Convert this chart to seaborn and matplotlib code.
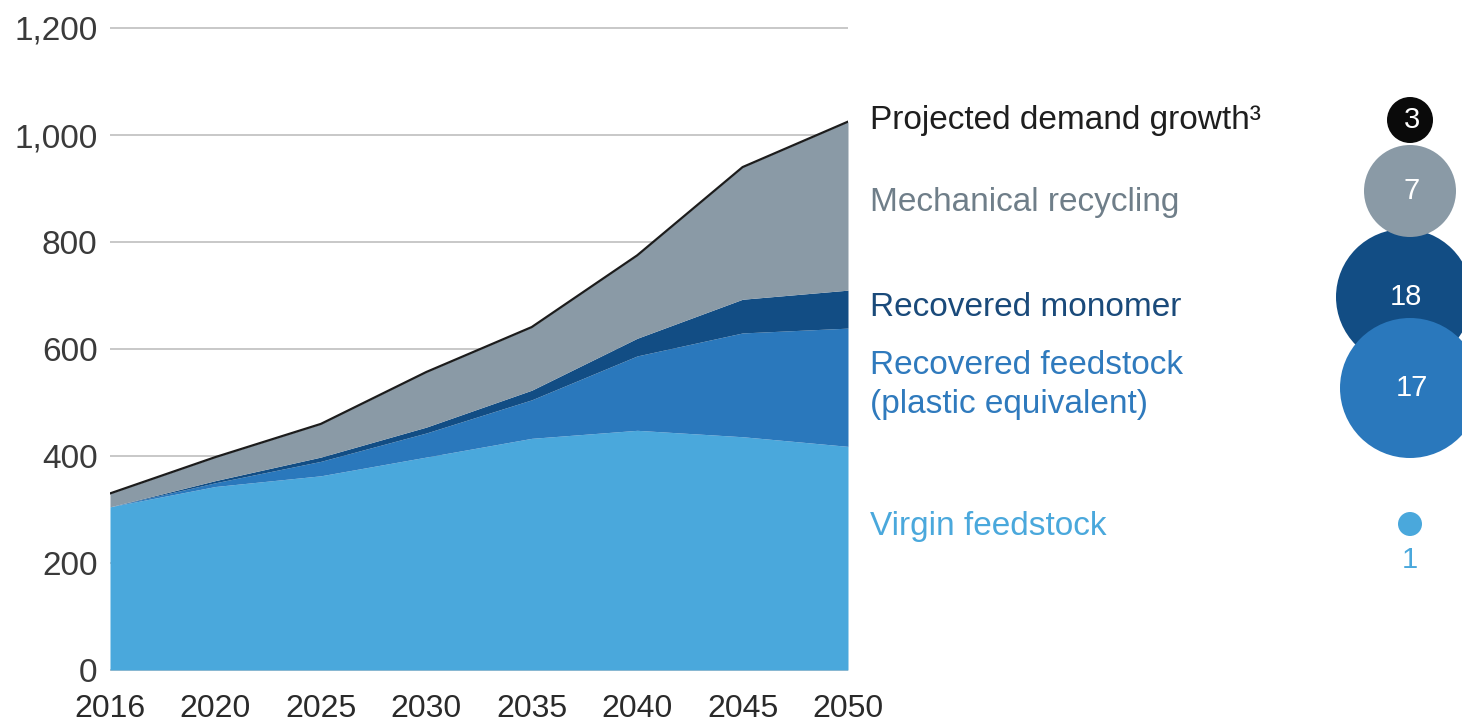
import matplotlib
matplotlib.use("Agg")
import matplotlib.pyplot as plt
from matplotlib.patches import Circle
import seaborn as sns
import numpy as np
import pandas as pd

# ---------------- data ----------------
years = ["2016", "2020", "2025", "2030", "2035", "2040", "2045", "2050"]
virgin_feedstock = [305, 343, 363, 398, 433, 448, 436, 418]
recovered_feedstock = [0, 7, 27, 45, 72, 139, 194, 221]
recovered_monomer = [0, 4, 8, 11, 18, 33, 63, 71]
mechanical_recycling = [25, 44, 62, 103, 118, 155, 247, 315]
y_ticks = [0, 200, 400, 600, 800, 1000, 1200]

legend_labels = ["Projected demand growth³", "Mechanical recycling",
                 "Recovered monomer", "Recovered feedstock\n(plastic equivalent)",
                 "Virgin feedstock"]
bubble_values = [3, 7, 18, 17, 1]

# ---------------- style ----------------
sns.set_theme(style="white")
plt.rcParams["font.family"] = ["Liberation Sans", "DejaVu Sans"]

c_virgin = "#4aa8dc"
c_feed = "#2a78bc"
c_mono = "#124d84"
c_mech = "#8a9aa6"
c_line = "#1c1c1c"

W, H = 1462, 728
fig = plt.figure(figsize=(W / 100, H / 100), dpi=100)
ax = fig.add_axes([110 / W, 1 - 670 / H, (848 - 110) / W, (670 - 28) / H])

df = pd.DataFrame({
    "pos": np.arange(len(years)),
    "virgin": virgin_feedstock,
    "feed": recovered_feedstock,
    "mono": recovered_monomer,
    "mech": mechanical_recycling,
})
df["total"] = df[["virgin", "feed", "mono", "mech"]].sum(axis=1)

# gridlines behind the areas
ax.hlines(y_ticks, 0, len(years) - 1, colors="#c8c8c8", linewidth=1.4,
          zorder=0, clip_on=False)

ax.stackplot(df["pos"], df["virgin"], df["feed"], df["mono"], df["mech"],
             colors=[c_virgin, c_feed, c_mono, c_mech], linewidth=0, zorder=1)
sns.lineplot(data=df, x="pos", y="total", color=c_line, linewidth=1.6,
             ax=ax, zorder=3)

ax.set_xlim(0, len(years) - 1)
ax.set_ylim(0, 1200)
ax.set_xticks(df["pos"])
ax.set_xticklabels(years)
ax.set_yticks(y_ticks)
ax.set_yticklabels([f"{v:,}" for v in y_ticks])
ax.set_xlabel("")
ax.set_ylabel("")
for s in ax.spines.values():
    s.set_visible(False)
ax.tick_params(axis="x", direction="in", length=9, width=1.0,
               color="#3a86bd", labelsize=23, labelcolor="#2a2a2a", pad=17)
ax.tick_params(axis="y", length=0, labelsize=24, labelcolor="#3a3a3a", pad=9)
ax.grid(False)

# ---------------- right-hand labels and bubbles ----------------
ov = fig.add_axes([0, 0, 1, 1])
ov.set_xlim(0, W)
ov.set_ylim(H, 0)
ov.axis("off")
ov.patch.set_alpha(0)

label_colors = ["#1e1e1e", "#6f7e89", "#1a4a7a", "#2f7abd", "#4aa8dc"]
label_y = [120, 203, 307, 385, 527]
bubble_colors = ["#0a0a0a", "#8a9aa6", "#124d84", "#2a78bc", "#4aa8dc"]
bubble_x = [1410, 1410, 1404, 1410, 1410]
bubble_y = [120, 191, 297, 388, 524]
bubble_r = [23, 46, 68, 70, 12]
bubble_z = [4, 3, 2, 3, 3]

for txt, col, yy in zip(legend_labels, label_colors, label_y):
    ov.text(870, yy, txt, color=col, fontsize=24, ha="left", va="center",
            linespacing=1.35)

for val, col, bx, by, r, z in zip(bubble_values, bubble_colors, bubble_x,
                                  bubble_y, bubble_r, bubble_z):
    ov.add_patch(Circle((bx, by), r, facecolor=col, edgecolor="none",
                        zorder=z, clip_on=True))
    if r > 20:
        ov.text(bx + 2, by, str(val), color="white", fontsize=21,
                ha="center", va="center", zorder=z + 0.1)
    else:
        ov.text(bx, by + 36, str(val), color=col, fontsize=21,
                ha="center", va="center", zorder=z + 0.1)

fig.savefig("out.png", dpi=100)
